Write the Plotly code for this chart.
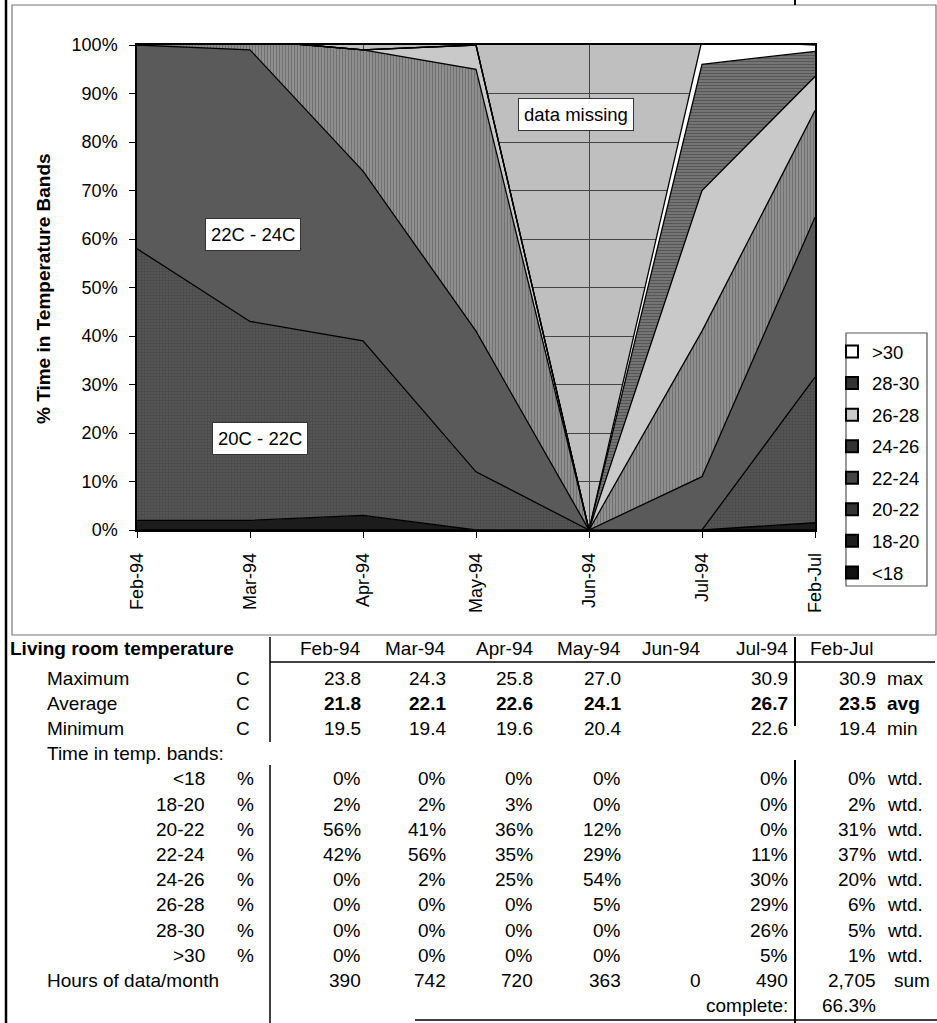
import plotly.graph_objects as go

# ---- data ---------------------------------------------------------------
months = ["Feb-94", "Mar-94", "Apr-94", "May-94", "Jun-94", "Jul-94"]
period = "Feb-Jul"
categories = months + [period]

temp_max = [23.8, 24.3, 25.8, 27.0, None, 30.9]
temp_avg = [21.8, 22.1, 22.6, 24.1, None, 26.7]
temp_min = [19.5, 19.4, 19.6, 20.4, None, 22.6]
period_max, period_avg, period_min = 30.9, 23.5, 19.4

bands = ["<18", "18-20", "20-22", "22-24", "24-26", "26-28", "28-30", ">30"]
# monthly share of hours in each band (%), June has no data
band_lt18 = [0, 0, 0, 0, None, 0]
band_18_20 = [2, 2, 3, 0, None, 0]
band_20_22 = [56, 41, 36, 12, None, 0]
band_22_24 = [42, 56, 35, 29, None, 11]
band_24_26 = [0, 2, 25, 54, None, 30]
band_26_28 = [0, 0, 0, 5, None, 29]
band_28_30 = [0, 0, 0, 0, None, 26]
band_gt30 = [0, 0, 0, 0, None, 5]
band_rows = [band_lt18, band_18_20, band_20_22, band_22_24,
             band_24_26, band_26_28, band_28_30, band_gt30]
# hours-weighted shares for the whole period (table column)
band_weighted = [0, 2, 31, 37, 20, 6, 5, 1]
# period column as plotted in the chart (mean of monthly shares)
band_period_chart = [0, 1.5, 30, 33, 22, 7, 5.2, 1.3]

hours = [390, 742, 720, 363, 0, 490]
hours_total = "2,705"
complete = "66.3%"

y_ticks = list(range(0, 101, 10))

# ---- styling --------------------------------------------------------------
FONT = "Liberation Sans, Arial, sans-serif"
W, H = 937, 1023
L, R, T, B = 137, 815, 45, 530
TABLE_SIZE = 19

band_style = {
    "<18":   dict(fillcolor="#0e0e0e"),
    "18-20": dict(fillcolor="#1c1c1c"),
    "20-22": dict(fillpattern=dict(shape="+", fgcolor="#363636", bgcolor="#555555",
                                   size=3, solidity=0.3)),
    "22-24": dict(fillcolor="#5a5a5a"),
    "24-26": dict(fillpattern=dict(shape="|", fgcolor="#555555", bgcolor="#8e8e8e",
                                   size=3, solidity=0.35)),
    "26-28": dict(fillcolor="#c9c9c9"),
    "28-30": dict(fillpattern=dict(shape="-", fgcolor="#333333", bgcolor="#7a7a7a",
                                   size=3, solidity=0.45)),
    ">30":   dict(fillcolor="#ffffff"),
}
legend_color = {"<18": "#111111", "18-20": "#1e1e1e", "20-22": "#333333",
                "22-24": "#444444", "24-26": "#333333", "26-28": "#c9c9c9",
                "28-30": "#333333", ">30": "#ffffff"}


def fx(px):
    return (px - L) / (R - L)


def fy(py):
    return (B - py) / (B - T)


fig = go.Figure()

# stacked areas (June drawn as zero)
for name, row, per in zip(bands, band_rows, band_period_chart):
    yvals = [0 if v is None else v for v in row] + [per]
    fig.add_trace(go.Scatter(
        x=categories, y=yvals, name=name, stackgroup="one", mode="lines",
        line=dict(color="black", width=1.3), showlegend=False,
        hoverinfo="skip", **band_style[name]))

# legend entries as square swatches, warmest band first
for name in reversed(bands):
    fig.add_trace(go.Scatter(
        x=[None], y=[None], name=name, mode="markers", legendgroup=name,
        marker=dict(symbol="square", size=12, color=legend_color[name],
                    line=dict(color="black", width=1))))

shapes = []
annotations = []


def line(x0, y0, x1, y1, width=1.5, color="black"):
    shapes.append(dict(type="line", xref="paper", yref="paper",
                       x0=fx(x0), y0=fy(y0), x1=fx(x1), y1=fy(y1),
                       line=dict(color=color, width=width)))


def text(px, py, s, anchor="right", bold=False, size=TABLE_SIZE):
    if bold:
        s = f"<b>{s}</b>"
    annotations.append(dict(xref="paper", yref="paper", x=fx(px), y=fy(py),
                            text=s, showarrow=False, xanchor=anchor,
                            yanchor="middle", font=dict(family=FONT, size=size,
                                                         color="black")))


# chart frame and legend box
shapes.append(dict(type="rect", xref="paper", yref="paper",
                   x0=fx(12), x1=fx(936), y0=fy(5), y1=fy(635),
                   line=dict(color="#777777", width=1.2)))
shapes.append(dict(type="rect", xref="paper", yref="paper",
                   x0=fx(846), x1=fx(927), y0=fy(333), y1=fy(586),
                   line=dict(color="#555555", width=1.2)))
line(6, 0, 6, 1023, width=2.5)

# band labels inside the chart
for lab, cx, cy in [("22C - 24C", 1.03, 61), ("20C - 22C", 1.09, 18.8),
                    ("data missing", 3.885, 85.6)]:
    annotations.append(dict(x=cx, y=cy, xref="x", yref="y", text=lab,
                            showarrow=False, bgcolor="white",
                            bordercolor="#333333", borderwidth=1, borderpad=5,
                            font=dict(family=FONT, size=18.5, color="black")))

# y-axis title
annotations.append(dict(xref="paper", yref="paper", x=fx(43), y=fy(288),
                        text="<b>% Time in Temperature Bands</b>", textangle=-90,
                        showarrow=False, xanchor="center", yanchor="middle",
                        font=dict(family=FONT, size=19, color="black")))

# ---- table --------------------------------------------------------------
col_right = [363, 448, 535, 623, 703, 790]
per_right, per_unit = 878, 885
lab_x, unit_x, band_x, pct_x = 45, 243, 207, 245
y_head = 648
row_y = [678 + 25.2 * i for i in range(14)]

line(270, 637, 270, 742)
line(270, 765, 270, 1023)
line(795, 0, 795, 5, width=2)
line(795, 637, 795, 726, width=2)
line(795, 760, 795, 1023, width=2)
line(270, 662, 935, 662)
line(415, 1020, 937, 1020)

text(8, y_head, "Living room temperature", anchor="left", bold=True)
for m, xr in zip(months, col_right):
    text(xr, y_head, m)
text(808, y_head, period, anchor="left")

for i, (lab, vals, pv, unit) in enumerate([
        ("Maximum", temp_max, period_max, "max"),
        ("Average", temp_avg, period_avg, "avg"),
        ("Minimum", temp_min, period_min, "min")]):
    yy = row_y[i]
    bold = lab == "Average"
    text(lab_x, yy, lab, anchor="left")
    text(unit_x, yy, "C", anchor="center")
    for v, xr in zip(vals, col_right):
        if v is not None:
            text(xr, yy, f"{v:.1f}", bold=bold)
    text(per_right, yy, f"{pv:.1f}", bold=bold)
    text(per_unit, yy, unit, anchor="left", bold=bold)

text(lab_x, row_y[3], "Time in temp. bands:", anchor="left")
for j, (name, row, wv) in enumerate(zip(bands, band_rows, band_weighted)):
    yy = row_y[4 + j]
    text(band_x, yy, name.replace("<", "&lt;").replace(">", "&gt;"))
    text(pct_x, yy, "%", anchor="center")
    for v, xr in zip(row, col_right):
        if v is not None:
            text(xr, yy, f"{v}%")
    text(per_right, yy, f"{wv}%")
    text(per_unit, yy, "wtd.", anchor="left")

yy = row_y[12]
text(lab_x, yy, "Hours of data/month", anchor="left")
for v, xr in zip(hours, col_right):
    text(xr, yy, f"{v:,}")
text(per_right, yy, hours_total)
text(per_unit + 7, yy, "sum", anchor="left")

yy = row_y[13]
text(col_right[-1], yy, "complete:")
text(per_right, yy, complete)

fig.update_layout(
    width=W, height=H,
    margin=dict(l=L, r=W - R, t=T, b=H - B, autoexpand=False),
    paper_bgcolor="white", plot_bgcolor="#bfbfbf",
    font=dict(family=FONT, size=18, color="black"),
    showlegend=True,
    legend=dict(xref="container", yref="container", x=832 / W, y=1 - 333 / H,
                xanchor="left", yanchor="top", traceorder="grouped",
                tracegroupgap=4.5, bgcolor="rgba(0,0,0,0)", borderwidth=0,
                font=dict(family=FONT, size=18.5, color="black"),
                itemsizing="constant"),
    shapes=shapes, annotations=annotations,
)
fig.update_xaxes(type="category", range=[0, 6], tickangle=-90,
                 showgrid=True, gridcolor="#444444", gridwidth=1,
                 showline=True, linecolor="black", linewidth=1.5, mirror=True,
                 ticks="outside", ticklen=6, tickcolor="black",
                 tickfont=dict(family=FONT, size=18), ticklabelstandoff=8)
fig.update_yaxes(range=[0, 100], tickmode="array", tickvals=y_ticks,
                 ticktext=[f"{v}%" for v in y_ticks],
                 showgrid=True, gridcolor="#444444",
                 gridwidth=1, zeroline=False,
                 showline=True, linecolor="black", linewidth=1.5, mirror=True,
                 ticks="outside", ticklen=6, tickcolor="black",
                 tickfont=dict(family=FONT, size=18), ticklabelstandoff=8)

fig.write_html("out.html")
